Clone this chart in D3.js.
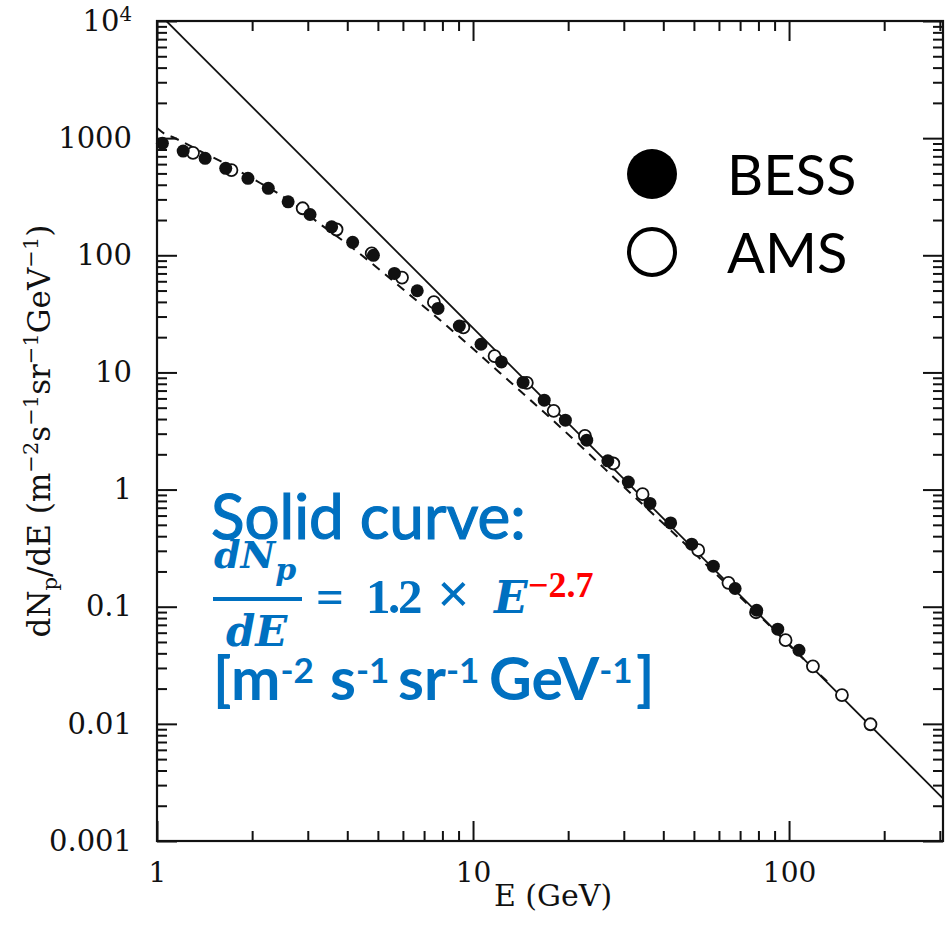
<!DOCTYPE html>
<html>
<head>
<meta charset="utf-8">
<script src="https://cdn.jsdelivr.net/npm/d3@7"></script>
<style>
  body { margin: 0; background: #fff; }
  svg { display: block; }
</style>
</head>
<body>
<div id="chart"></div>
<script>
'use strict';

// ---- data -------------------------------------------------------
var bessE = [1.04, 1.21, 1.42, 1.65, 1.94, 2.25, 2.60, 3.05, 3.57, 4.16, 4.84,
             5.64, 6.66, 7.75, 9.05, 10.6, 12.3, 14.4, 16.8, 19.6, 22.9, 26.7,
             31.0, 36.3, 42.2, 49.2, 57.6, 67.5, 79.0, 92.1, 107.5];
var bessFlux = [903, 776, 672, 552, 454, 373, 286, 223, 175, 129, 100,
                70.0, 49.8, 35.2, 24.9, 17.4, 12.3, 8.22, 5.80, 3.91, 2.64, 1.76,
                1.16, 0.761, 0.519, 0.342, 0.222, 0.143, 0.0933, 0.0643, 0.0425];

var amsE = [1.30, 1.72, 2.89, 3.70, 4.78, 5.96, 7.52, 9.32, 11.7, 14.8, 18.0,
            22.6, 27.8, 34.4, 51.6, 64.3, 78.6, 97.5, 119, 147, 181];
var amsFlux = [750, 534, 252, 166, 104, 64.5, 39.8, 24.2, 13.8, 8.15, 4.70,
               2.87, 1.67, 0.914, 0.304, 0.160, 0.0897, 0.0518, 0.0310, 0.0176, 0.00992];

// dashed fit through the data
var fitE = [1.00, 1.06, 1.12, 1.19, 1.37, 1.70, 2.12, 2.64, 3.28, 4.08, 5.08,
            6.32, 7.86, 9.78, 12.2, 15.2, 18.9, 23.5, 29.2, 36.3, 45.2, 56.2,
            70.0, 87.1, 108, 135];
var fitFlux = [1220, 1084, 1022, 944, 776, 578, 414, 290, 185, 120, 74.7,
               45.7, 28.0, 16.8, 9.86, 5.80, 3.41, 1.97, 1.13, 0.654, 0.377, 0.213,
               0.121, 0.0682, 0.0385, 0.0218];

// solid curve, 1.2 x E^-2.7 (end points)
var solidE = [1, 310];
var solidFlux = [12000, 0.00225];

var xTickValues = [1, 10, 100];
var xTickLabels = ['1', '10', '100'];
var yTickValues = [0.001, 0.01, 0.1, 1, 10, 100, 1000, 10000];
var yTickLabels = ['0.001', '0.01', '0.1', '1', '10', '100', '1000', '10^4'];
var legendNames = ['BESS', 'AMS'];

function protonSpectrum()
{
    var scope = {};
    var exports = {};

    scope.left = 157;
    scope.right = 943;
    scope.top = 21;
    scope.bottom = 841;
    scope.xScale = undefined;
    scope.yScale = undefined;
    scope.serif = "'DejaVu Serif', serif";
    scope.blue = '#0070c0';

    scope.appendSvg = function(div)
    {
        return d3.select(div).append('svg')
            .attr('width', 945)
            .attr('height', 929);
    }

    scope.createScales = function()
    {
        scope.xScale = d3.scaleLog().domain([1, 307]).range([scope.left, scope.right]);
        scope.yScale = d3.scaleLog().domain([0.001, 10000]).range([scope.bottom, scope.top]);
    }

    scope.styleAxis = function(g)
    {
        g.select('.domain').remove();
        g.attr('font-family', scope.serif).attr('font-size', 28).attr('color', '#111');
        g.selectAll('.tick line').attr('stroke-width', 2);
    }

    scope.createAxes = function(svg)
    {
        var x = scope.xScale, y = scope.yScale;
        var minorX = x.ticks().filter(function(d) { return xTickValues.indexOf(d) < 0; });
        var minorY = y.ticks().filter(function(d) { return yTickValues.indexOf(d) < 0; });

        // bottom
        svg.append('g')
            .attr('transform', 'translate(0,' + scope.bottom + ')')
            .call(d3.axisBottom(x).tickValues(xTickValues)
                .tickFormat(function(d, i) { return xTickLabels[i]; })
                .tickSizeInner(-20).tickSizeOuter(0).tickPadding(21))
            .call(scope.styleAxis);
        svg.append('g')
            .attr('transform', 'translate(0,' + scope.bottom + ')')
            .call(d3.axisBottom(x).tickValues(minorX).tickFormat('').tickSizeInner(-10).tickSizeOuter(0))
            .call(scope.styleAxis);

        // top
        svg.append('g')
            .attr('transform', 'translate(0,' + scope.top + ')')
            .call(d3.axisTop(x).tickValues(xTickValues).tickFormat('').tickSizeInner(-20).tickSizeOuter(0))
            .call(scope.styleAxis);
        svg.append('g')
            .attr('transform', 'translate(0,' + scope.top + ')')
            .call(d3.axisTop(x).tickValues(minorX).tickFormat('').tickSizeInner(-10).tickSizeOuter(0))
            .call(scope.styleAxis);

        // left
        var yAxis = svg.append('g')
            .attr('transform', 'translate(' + scope.left + ',0)')
            .call(d3.axisLeft(y).tickValues(yTickValues)
                .tickFormat(function(d, i) { return yTickLabels[i]; })
                .tickSizeInner(-20).tickSizeOuter(0).tickPadding(25))
            .call(scope.styleAxis);
        yAxis.selectAll('.tick text').attr('font-size', 29).each(function(d, i) {
            var lab = yTickLabels[i];
            if (lab.indexOf('^') < 0) return;
            var parts = lab.split('^');
            var t = d3.select(this).text(parts[0]);
            t.append('tspan').attr('dy', '-0.5em').attr('font-size', '0.68em').text(parts[1]);
        });
        svg.append('g')
            .attr('transform', 'translate(' + scope.left + ',0)')
            .call(d3.axisLeft(y).tickValues(minorY).tickFormat('').tickSizeInner(-10).tickSizeOuter(0))
            .call(scope.styleAxis);

        // right
        svg.append('g')
            .attr('transform', 'translate(' + scope.right + ',0)')
            .call(d3.axisRight(y).tickValues(yTickValues).tickFormat('').tickSizeInner(-20).tickSizeOuter(0))
            .call(scope.styleAxis);
        svg.append('g')
            .attr('transform', 'translate(' + scope.right + ',0)')
            .call(d3.axisRight(y).tickValues(minorY).tickFormat('').tickSizeInner(-10).tickSizeOuter(0))
            .call(scope.styleAxis);

        svg.append('rect')
            .attr('x', scope.left).attr('y', scope.top)
            .attr('width', scope.right - scope.left).attr('height', scope.bottom - scope.top)
            .attr('fill', 'none').attr('stroke', '#111').attr('stroke-width', 2.2);
    }

    scope.appendLines = function(svg)
    {
        svg.append('clipPath').attr('id', 'plotClip')
            .append('rect')
            .attr('x', scope.left).attr('y', scope.top)
            .attr('width', scope.right - scope.left).attr('height', scope.bottom - scope.top);

        var g = svg.append('g').attr('clip-path', 'url(#plotClip)');

        var line = d3.line()
            .curve(d3.curveMonotoneX)
            .x(function(d) { return scope.xScale(d[0]); })
            .y(function(d) { return scope.yScale(d[1]); });

        g.append('path')
            .attr('d', line(d3.zip(solidE, solidFlux)))
            .attr('fill', 'none').attr('stroke', '#111').attr('stroke-width', 1.8);

        g.append('path')
            .attr('d', line(d3.zip(fitE, fitFlux)))
            .attr('fill', 'none').attr('stroke', '#111').attr('stroke-width', 2)
            .attr('stroke-dasharray', '9,7');
    }

    scope.appendPoints = function(svg)
    {
        var x = scope.xScale, y = scope.yScale;

        svg.append('g').selectAll('circle')
            .data(d3.zip(amsE, amsFlux))
            .enter().append('circle')
            .attr('cx', function(d) { return x(d[0]); })
            .attr('cy', function(d) { return y(d[1]); })
            .attr('r', 6)
            .attr('fill', '#fff').attr('stroke', '#111').attr('stroke-width', 1.8);

        svg.append('g').selectAll('circle')
            .data(d3.zip(bessE, bessFlux))
            .enter().append('circle')
            .attr('cx', function(d) { return x(d[0]); })
            .attr('cy', function(d) { return y(d[1]); })
            .attr('r', 6.5)
            .attr('fill', '#111');
    }

    scope.appendLegend = function(svg)
    {
        var legend = svg.append('g')
            .attr('font-family', "Lato, 'Open Sans', sans-serif")
            .attr('font-size', 56)
            .selectAll('g')
            .data(legendNames)
            .enter().append('g')
            .attr('transform', function(d, i) { return 'translate(0,' + (i * 78) + ')'; });

        legend.append('circle')
            .attr('cx', 652).attr('cy', 174)
            .attr('r', function(d, i) { return i === 0 ? 25 : 23; })
            .attr('fill', function(d, i) { return i === 0 ? '#000' : '#fff'; })
            .attr('stroke', '#000')
            .attr('stroke-width', function(d, i) { return i === 0 ? 0 : 4; });

        legend.append('text')
            .attr('x', 727).attr('y', 195)
            .text(function(d) { return d; });
    }

    scope.createLabel = function(svg)
    {
        var yl = svg.append('text')
            .attr('transform', 'translate(50,431) rotate(-90)')
            .attr('font-family', scope.serif).attr('font-size', 31)
            .attr('text-anchor', 'middle').attr('fill', '#111');
        yl.append('tspan').text('dN');
        yl.append('tspan').attr('dy', 7).attr('font-size', 21).text('p');
        yl.append('tspan').attr('dy', -7).text('/dE (m');
        var units = [['\u22122', 's'], ['\u22121', 'sr'], ['\u22121', 'GeV'], ['\u22121', ')']];
        units.forEach(function(u) {
            yl.append('tspan').attr('dy', -12).attr('font-size', 21).text(u[0]);
            yl.append('tspan').attr('dy', 12).text(u[1]);
        });

        svg.append('text')
            .attr('x', 553).attr('y', 906)
            .attr('font-family', scope.serif).attr('font-size', 30)
            .attr('text-anchor', 'middle').attr('fill', '#111')
            .text('E (GeV)');
    }

    scope.appendNote = function(svg)
    {
        var g = svg.append('g').attr('fill', scope.blue);
        var math = "'DejaVu Serif', serif";
        var roman = "'Liberation Serif', serif";

        g.append('text')
            .attr('x', 211).attr('y', 539)
            .attr('font-family', "Lato, sans-serif").attr('font-size', 62)
            .attr('stroke', scope.blue).attr('stroke-width', 1.2)
            .text('Solid curve:');

        var num = g.append('text')
            .attr('x', 214).attr('y', 568)
            .attr('font-family', math).attr('font-size', 38)
            .attr('font-weight', 'bold').attr('font-style', 'italic');
        num.append('tspan').text('dN');
        num.append('tspan').attr('dy', 12).attr('font-size', 30).text('p');

        g.append('line')
            .attr('x1', 213).attr('x2', 302).attr('y1', 599).attr('y2', 599)
            .attr('stroke', scope.blue).attr('stroke-width', 4);

        g.append('text')
            .attr('x', 226).attr('y', 646)
            .attr('font-family', math).attr('font-size', 42)
            .attr('font-weight', 'bold').attr('font-style', 'italic')
            .text('dE');

        var eq = g.append('text')
            .attr('y', 613)
            .attr('font-family', roman).attr('font-size', 49).attr('font-weight', 'bold');
        eq.append('tspan').attr('x', 316).text('=');
        eq.append('tspan').attr('x', 366).text('1');
        eq.append('tspan').attr('x', 388).text('.');
        eq.append('tspan').attr('x', 398).text('2');
        eq.append('tspan').attr('x', 437).attr('font-size', 58).text('\u00d7');
        eq.append('tspan').attr('x', 494).attr('font-family', math).attr('font-size', 44)
            .attr('font-style', 'italic').text('E');
        eq.append('tspan').attr('x', 528).attr('y', 597).attr('font-size', 36)
            .attr('fill', '#ff0000').text('\u22122.7');

        var un = g.append('text')
            .attr('y', 700)
            .attr('font-family', "Lato, sans-serif").attr('font-size', 59).attr('font-weight', 'bold');
        // [text, x (null = follow on), superscript]
        var pieces = [['[', 213, 0], ['m', 231, 0], ['-2', null, 1], ['s', 330, 0], ['-1', null, 1],
                      ['sr', 398, 0], ['-1', null, 1], ['GeV', 489, 0], ['-1', null, 1], [']', 636, 0]];
        pieces.forEach(function(p) {
            var t = un.append('tspan')
                .attr('y', p[2] ? 683 : 700)
                .attr('font-size', p[2] ? 35 : 59)
                .text(p[0]);
            if (p[1] !== null) t.attr('x', p[1]);
        });
    }

    //------------- exported API -----------------------------------

    exports.run = function(div)
    {
        var svg = scope.appendSvg(div);
        scope.createScales();
        scope.appendLines(svg);
        scope.appendPoints(svg);
        scope.createAxes(svg);
        scope.createLabel(svg);
        scope.appendLegend(svg);
        scope.appendNote(svg);
    }

    return exports;
}

protonSpectrum().run('#chart');
</script>
</body>
</html>
